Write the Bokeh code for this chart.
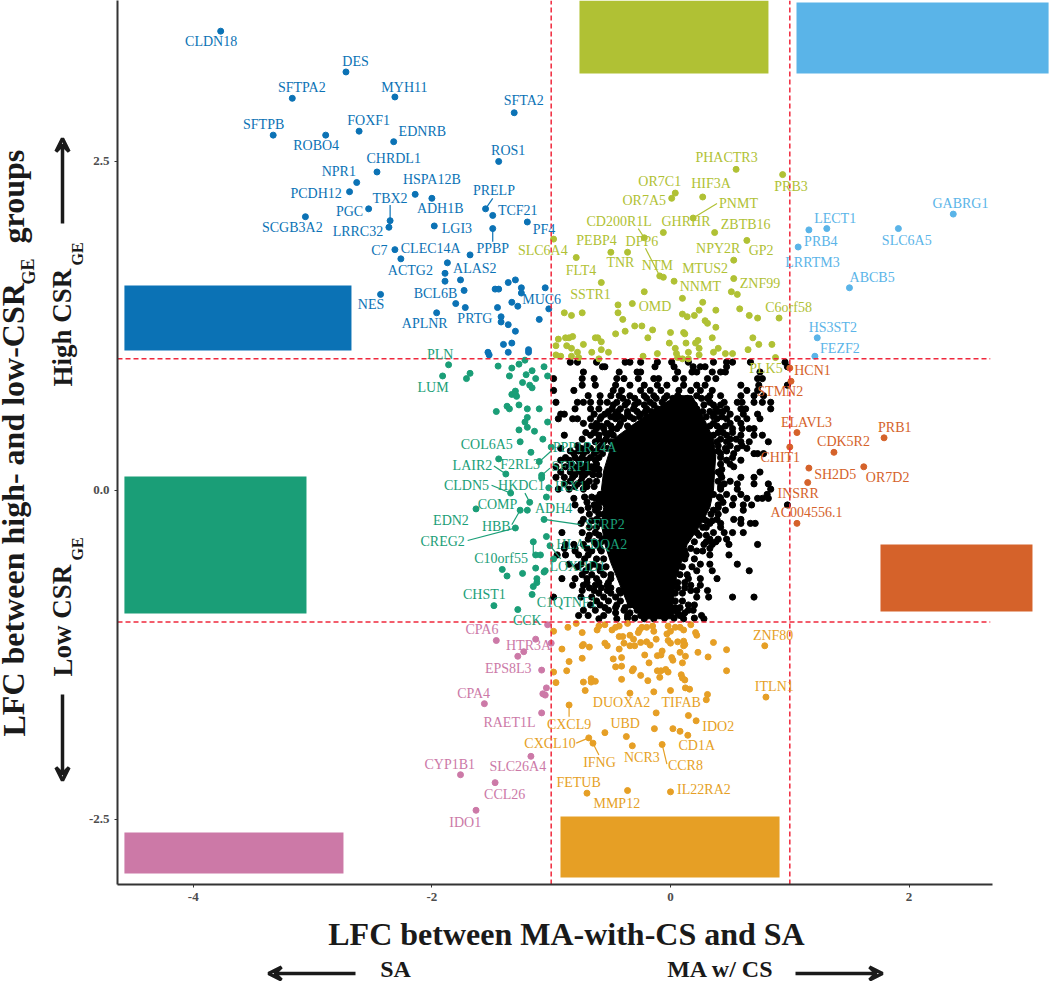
from bokeh.plotting import figure
from bokeh.layouts import column, row
from bokeh.models import Arrow, VeeHead, FixedTicker
from bokeh.core.properties import value
from bokeh.embed import file_html
from bokeh.resources import INLINE

SERIF = "Liberation Serif"

# ---------- blue: up in SA, high CSR ----------
blue_x = [-3.77,-2.72,-3.17,-2.31,-1.31,-3.33,-2.89,-2.61,-2.32,-1.44,-2.46,-2.63,-2.69,-2.14,-2.00,-2.53,-1.55,-1.49,-1.20,-2.35,-3.06,-2.36,-1.98,-1.49,-2.31,-2.26,-1.68,-1.87,-1.89,-1.89,-1.76,-2.43,-1.73,-1.80,-1.72,-1.96,-1.47,-1.44,-1.36,-1.30,-1.25,-1.25,-1.05,-1.33,-1.28,-1.45,-1.02,-1.42,-1.42,-1.36,-1.10,-1.30,-1.40,-1.33,-1.53,-1.52,-1.36,-1.19,-1.19]
blue_y = [3.49,3.18,2.98,2.99,2.87,2.70,2.70,2.73,2.65,2.50,2.42,2.34,2.27,2.25,2.22,2.14,2.14,2.09,2.04,2.05,2.08,2.00,2.01,1.99,1.83,1.76,1.79,1.73,1.65,1.59,1.60,1.49,1.52,1.42,1.39,1.35,1.53,1.53,1.58,1.60,1.54,1.50,1.54,1.43,1.40,1.39,1.38,1.32,1.28,1.26,1.30,1.21,1.11,1.12,1.05,1.03,1.05,1.07,1.05]
blue_names = ["CLDN18","DES","SFTPA2","MYH11","SFTA2","SFTPB","FOXF1","EDNRB","ROBO4","ROS1","CHRDL1","NPR1","HSPA12B","PCDH12","PRELP","TBX2","ADH1B","PGC","TCF21","SCGB3A2","LGI3","LRRC32","PF4","PPBP","CLEC14A","C7","ALAS2","ACTG2","BCL6B","MUC6","NES","PRTG","APLNR"]
blue_lx = [-3.85,-2.64,-3.09,-2.23,-1.23,-3.41,-2.53,-2.08,-2.97,-1.36,-2.32,-2.78,-2.00,-2.97,-1.48,-2.35,-1.93,-2.69,-1.28,-3.17,-1.79,-2.62,-1.06,-1.49,-2.01,-2.44,-1.64,-2.18,-1.97,-1.08,-2.51,-1.64,-2.06]
blue_ly = [3.41,3.26,3.06,3.06,2.96,2.78,2.81,2.73,2.62,2.58,2.52,2.42,2.36,2.26,2.28,2.22,2.14,2.12,2.13,2.00,1.99,1.97,1.98,1.84,1.84,1.82,1.69,1.67,1.50,1.45,1.41,1.31,1.27]
blue_seg = [[-1.49,2.22,-1.55,2.14],[-2.35,2.17,-2.35,2.05],[-1.49,1.99,-1.49,1.89]]

# ---------- lime ----------
lime_x = [.55,.94,.04,.01,.27,.19,-.06,.37,.64,-.22,-.98,-.36,-.50,-.79,.53,-.09,-.06,.03,.53,.51,.56,-.58,-.22,-.32,.10,.27,-.44,-.44,-.40,-.89,-.83,-.74,.24,.38,.58,.66,.73,.91,.10,.14,.20,.29,.31,.38,-.30,-.24,-.38,-.46,-.15,-.19,.00,.11,.12,.35,.69,.23,.21,-.01,.13,.74,.85,-.94,-.88,-.85,-.82,-.87,-.96,-.73,-.63,-.61,-.58,-.83,-.78,-.66,-.58,-.52,-.96,-.92,-.83,-.77,-.60,-.23,-.11,.04,.05,.06,.10,.15,.15,.24,.24,.36,.40,.46,.52,.65,.88]
lime_y = [2.44,2.40,2.26,2.22,2.23,2.07,1.96,1.96,1.90,1.92,1.91,1.81,1.81,1.77,1.75,1.63,1.62,1.59,1.61,1.51,1.49,1.58,1.51,1.42,1.46,1.43,1.41,1.35,1.30,1.35,1.33,1.35,1.37,1.37,1.38,1.33,1.31,1.31,1.34,1.32,1.33,1.29,1.27,1.24,1.25,1.25,1.21,1.19,1.22,1.16,1.20,1.20,1.19,1.16,1.16,1.14,1.12,1.12,1.12,1.11,1.11,1.15,1.16,1.16,1.17,1.10,1.10,1.11,1.16,1.16,1.13,1.08,1.05,1.05,1.07,1.05,1.03,1.02,1.02,1.01,1.00,1.02,1.04,1.08,1.04,1.01,1.00,1.00,1.05,1.08,1.03,1.05,1.08,1.04,1.04,1.07,1.01]
lime_names = ["PHACTR3","OR7C1","HIF3A","PRB3","OR7A5","PNMT","CD200R1L","GHRHR","ZBTB16","PEBP4","DPP6","NPY2R","GP2","SLC6A4","TNR","NTM","MTUS2","FLT4","ZNF99","NNMT","SSTR1","OMD","C6orf58","PLK5"]
lime_lx = [.47,-.09,.34,1.01,-.22,.57,-.43,.13,.63,-.62,-.24,.40,.76,-1.07,-.42,-.11,.29,-.75,.75,.25,-.67,-.13,.99,.80]
lime_ly = [2.53,2.35,2.33,2.31,2.20,2.18,2.04,2.04,2.02,1.90,1.89,1.84,1.82,1.82,1.73,1.71,1.69,1.67,1.57,1.55,1.49,1.40,1.39,.93]
lime_seg = [[.39,2.18,.19,2.07],[-.27,1.99,-.22,1.92],[-.21,1.84,-.09,1.63]]

# ---------- sky ----------
sky_x = [2.37,1.91,1.31,1.16,1.07,1.50,1.23,1.21]
sky_y = [2.10,1.99,1.99,1.98,1.85,1.54,1.16,1.02]
sky_names = ["GABRG1","LECT1","PRB4","SLC6A5","LRRTM3","ABCB5","HS3ST2","FEZF2"]
sky_lx = [2.43,1.38,1.26,1.98,1.19,1.69,1.36,1.42]
sky_ly = [2.18,2.07,1.89,1.90,1.73,1.62,1.24,1.08]

# ---------- rust ----------
rust_x = [1.00,1.01,1.06,1.79,1.37,1.00,1.16,1.62,1.15,1.06]
rust_y = [.93,.83,.44,.40,.29,.33,.17,.18,.06,-.25]
rust_names = ["HCN1","STMN2","ELAVL3","PRB1","CDK5R2","CHIT1","SH2D5","OR7D2","INSRR","AC004556.1"]
rust_lx = [1.19,.92,1.14,1.88,1.45,.92,1.38,1.82,1.07,1.14]
rust_ly = [.91,.75,.52,.48,.37,.25,.12,.10,-.02,-.17]

# ---------- green ----------
green_x = [-1.86,-1.91,-1.68,-1.71,-1.445,-1.33,-1.27,-1.22,-1.06,-1.35,-1.21,-1.16,-1.13,-1.03,-1.24,-1.18,-1.16,-1.30,-1.33,-1.30,-1.29,-1.27,-1.37,-1.35,-1.46,-1.20,-1.10,-1.20,-1.22,-1.03,-1.27,-1.20,-1.14,-1.07,-1.26,-1.00,-1.17,-1.44,-1.10,-1.38,-1.08,-1.08,-1.02,-1.34,-1.04,-1.18,-1.63,-1.26,-1.20,-1.06,-1.30,-1.04,-1.15,-1.01,-1.13,-1.09,-.98,-1.41,-1.37,-1.24,-1.13,-1.06,-1.05,-1.12,-1.12,-1.15,-1.16,-1.48,-1.28]
green_y = [.955,.87,.89,.85,.945,.93,.96,.99,.94,.87,.88,.91,.85,.87,.82,.80,.78,.755,.73,.73,.715,.65,.64,.62,.60,.62,.62,.555,.52,.52,.46,.48,.45,.39,.37,.33,.29,.24,.22,.125,.115,.095,.02,-.02,-.05,-.09,-.14,-.15,-.15,-.22,-.285,-.35,-.39,-.42,-.49,-.49,-.52,-.60,-.65,-.63,-.59,-.62,-.61,-.67,-.70,-.73,-.79,-.875,-.905]
green_names = ["PLN","LUM","COL6A5","PPP1R14A","LAIR2","F2RL3","SFRP1","CLDN5","HKDC1","IRX1","COMP","ADH4","EDN2","SFRP2","HBB","CREG2","HLA-DQA2","C10orf55","LOXHD1","CHST1","C1QTNF1","CCK"]
green_lx = [-1.93,-1.99,-1.54,-.72,-1.66,-1.26,-.83,-1.71,-1.25,-.84,-1.45,-.98,-1.84,-.55,-1.46,-1.91,-.66,-1.42,-.78,-1.56,-.87,-1.20]
green_ly = [1.036,.78,.35,.33,.19,.20,.185,.04,.036,.03,-.11,-.14,-.23,-.26,-.27,-.39,-.41,-.52,-.58,-.79,-.85,-.99]
green_seg = [[-1.0,.30,-1.11,.21],[-1.01,.17,-1.08,.115],[-1.48,.185,-1.38,.125],[-1.50,.04,-1.34,-.02],[-1.22,-.02,-1.18,-.09],[-1.33,-.26,-1.26,-.15],[-1.70,-.38,-1.30,-.285],[-1.06,-.22,-.755,-.26],[-1.15,-.39,-1.15,-.49],[-1.15,-.49,-1.09,-.49],[-1.01,-.42,-.92,-.52]]

# ---------- pink ----------
pink_x = [-1.03,-1.46,-1.13,-1.00,-1.23,-1.28,-1.08,-1.04,-1.07,-1.05,-1.56,-1.08,-1.17,-1.76,-1.47,-1.63]
pink_y = [-1.02,-1.14,-1.13,-1.16,-1.225,-1.26,-1.365,-1.50,-1.545,-1.555,-1.62,-1.69,-2.02,-2.16,-2.22,-2.43]
pink_names = ["CPA6","HTR3A","EPS8L3","CPA4","RAET1L","CYP1B1","SLC26A4","CCL26","IDO1"]
pink_lx = [-1.58,-1.19,-1.36,-1.65,-1.35,-1.85,-1.28,-1.39,-1.72]
pink_ly = [-1.06,-1.18,-1.35,-1.54,-1.76,-2.08,-2.10,-2.31,-2.52]

# ---------- orange ----------
orange_x = [-.79,-.98,-.86,-.74,-.615,-.60,-.55,-.49,-.46,-.43,-.36,-.26,-.24,-.20,-.15,-.14,-.02,.04,.08,-.03,.00,.11,.17,.21,.22,-.43,-.40,-.34,-.31,-.27,-.12,-.39,-.34,-.30,-.25,-.20,-.17,-.02,.00,.06,.11,.12,.11,-.55,-.53,-.74,-.73,-.68,-.91,.36,.47,-.43,-.07,-.11,-.08,-.216,-.41,-.48,-.74,-.85,.01,.02,.08,.125,.23,.315,-.18,.10,-.46,-.41,-.31,-.32,-.11,-.08,-.04,-.02,.47,-.98,-.87,-.25,-.09,.09,.10,.12,-.41,-.19,-.96,-.73,-.665,-.665,-.63,-.715,-.34,-.14,.00,.125,.16,.31,.30,.79,.80,-.85,-.12,.15,.215,-.55,-.685,-.65,-.37,-.32,-.135,.02,.08,.145,-.07,-.70,-.36,.00]
orange_y = [-1.01,-1.07,-1.04,-1.08,-1.06,-1.03,-1.02,-1.06,-1.04,-1.03,-1.01,-1.06,-1.04,-1.04,-1.03,-1.07,-1.03,-1.04,-1.04,-1.09,-1.07,-1.06,-1.02,-1.08,-1.10,-1.11,-1.11,-1.10,-1.13,-1.08,-1.13,-1.16,-1.18,-1.18,-1.155,-1.15,-1.175,-1.14,-1.16,-1.15,-1.145,-1.17,-1.18,-1.16,-1.18,-1.18,-1.17,-1.19,-1.205,-1.155,-1.21,-1.205,-1.22,-1.255,-1.25,-1.25,-1.27,-1.28,-1.275,-1.30,-1.27,-1.29,-1.23,-1.26,-1.23,-1.265,-1.31,-1.31,-1.34,-1.335,-1.355,-1.37,-1.37,-1.37,-1.36,-1.38,-1.37,-1.38,-1.37,-1.405,-1.42,-1.40,-1.425,-1.44,-1.435,-1.445,-1.46,-1.456,-1.43,-1.456,-1.45,-1.52,-1.54,-1.53,-1.52,-1.50,-1.51,-1.55,-1.59,-1.18,-1.57,-1.63,-1.69,-1.71,-1.75,-1.84,-1.88,-1.92,-1.87,-1.94,-1.81,-1.81,-1.83,-1.86,-1.93,-2.30,-2.28,-2.29]
orange_names = ["ZNF80","ITLN1","DUOXA2","TIFAB","IDO2","CXCL9","UBD","CXCL10","CD1A","NCR3","IFNG","CCR8","FETUB","IL22RA2","MMP12"]
orange_lx = [.86,.87,-.41,.09,.40,-.85,-.38,-1.01,.22,-.24,-.595,.125,-.77,.28,-.45]
orange_ly = [-1.10,-1.49,-1.61,-1.61,-1.79,-1.775,-1.77,-1.92,-1.94,-2.03,-2.07,-2.09,-2.22,-2.27,-2.38]
orange_seg = [[-.85,-1.63,-.85,-1.72],[-.79,-1.92,-.685,-1.88],[-.65,-1.92,-.60,-2.01],[-.07,-1.93,-.03,-2.08]]

# ---------- black: rows of readable points ----------
black_row_y = [.975,.94,.90,.85,.80,.76,.72,.67,.62,.58,.545,.51,.47,.42,.37,.32,.28,.23,.18,.14,.10,.05,.01,
               -.03,-.06,-.11,-.15,-.22,-.25,-.32,-.37,-.41,-.44,-.49,-.56,-.61,-.67,-.72,-.76,-.81,-.87,-.91,-.95,-.975,
               .70,.65,.60,.56,.49,.44,.39,.34,.30,.25,.20,.16,.12,.07,.03,
               -.05,-.09,-.13,-.18,-.23,-.28,-.34,-.39,-.46,-.52,-.58,-.64,-.70,-.74,-.78,-.84,-.89,-.93,-.97]
black_row_x = [
 [-.84,-.78,-.62,-.38,-.34,-.25,-.11,.01,.15,.36,.47,.52,.67,.96],
 [-.57,-.55,-.13,.03,.19,.25,.29,.47,.98],
 [-.73,-.43,-.28,-.25,.06,.18,.22,.35,.42,.46,.75],
 [-.98,-.74,-.64,-.45,-.39,-.27,-.14,-.10,.04,.11,.31,.38,.73,.77],
 [-.74,-.63,-.46,-.34,-.22,-.11,-.03,.11,.22,.29,.59,.74,.98],
 [-.98,-.81,-.48,-.41,-.25,-.17,-.08,.07,.17,.25,.35,.64,.73],
 [-.69,-.59,-.50,-.43,-.34,-.22,-.14,-.03,.06,.22,.33,.42,.59,.70,.78],
 [-.96,-.78,-.73,-.67,-.59,-.53,-.45,-.36,-.27,-.17,-.07,.03,.17,.33,.45,.56,.60,.70,.77,.84],
 [-.80,-.67,-.60,-.49,-.42,-.31,-.20,-.11,.01,.11,.22,.38,.47,.59,.63,.84],
 [-.92,-.89,-.64,-.55,-.46,-.36,-.25,-.14,-.01,.36,.50,.61,.73],
 [-.94,-.82,-.78,-.67,-.59,-.46,-.39,-.31,-.17,.39,.47,.56,.64,.75],
 [-.73,-.62,-.53,-.42,.36,.50,.59],
 [-.62,-.56,-.49,-.45,.42,.52,.60,.66,.70],
 [-.89,-.67,-.60,-.53,-.48,.36,.47,.59,.70,.77],
 [-.63,-.56,-.50,.39,.47,.59,.66,.82],
 [-.92,-.75,-.67,-.60,-.53,.46,.56,.64],
 [-.81,-.73,-.64,-.57,.42,.53,.70,.73,.78],
 [-.92,-.85,-.77,-.70,-.63,.47,.59],
 [-.96,-.88,-.81,-.73,-.66,.53],
 [-.92,-.84,-.75,-.69,.40,.75],
 [-.96,-.89,-.82,-.74,.43,.59,.70],
 [-.89,-.78,-.71,.45,.56,.70,.82],
 [-.94,-.85,-.73,.42,.56,.84],
 [-.59,-.56,.36,.47,.59,.81],
 [-.81,-.63,-.56,.42,.53,.64,.73,.77,.82],
 [-.80,-.64,-.50,.40,.52,.61,.68,.98],
 [-.75,-.63,-.53,.36,.46,.61],
 [-.73,-.62,.28,.39,.53,.59],
 [-.75,-.59,.33,.42,.59,.67,.71],
 [-.91,-.74,-.63,.22,.36,.45,.52,.61],
 [-.69,-.57,.33,.40,.47],
 [-.88,-.81,-.73,-.62,.08,.28,.35,.49,.73],
 [-.89,-.80,-.70,-.59,.17,.33],
 [-.95,-.88,-.77,-.69,.13,.33,.49],
 [-.85,-.75,-.64,.25,.33,.56],
 [-.71,-.59,.22,.35,.66],
 [-.91,-.80,-.70,-.62,-.50,.15,.25,.39],
 [-.82,-.73,-.63,-.53,.17,.25],
 [-.74,-.64,-.53,-.43,.17,.22,.31],
 [-.98,-.75,-.66,-.56,-.46,.22,.32,.52,.70],
 [-.67,-.59,-.45,-.34,.15,.20],
 [-.73,-.63,-.52,-.39,-.28,-.17,.03,.15,.19],
 [-.77,-.69,-.56,-.36,-.25,-.08,.08,.26],
 [-.60,-.45,-.22,-.14,.11,.28],
 [-.40,-.30,-.20,-.12,-.05,.02,.08,.14,.26,.31],
 [-.48,-.38,-.30,-.22,-.14,-.02,.08,.14,.20,.28,.36,.42],
 [-.52,-.44,-.36,-.28,-.21,-.16,.27,.33,.40,.44],
 [-.58,-.50,-.42,-.34,-.26,-.20,.30,.36,.43],
 [-.66,-.58,-.50,-.43,-.36,.33,.39,.46],
 [-.71,-.64,-.55,-.50,.40,.44,.52],
 [-.74,-.60,-.54,.42,.50,.55],
 [-.78,-.70,-.58,.40,.50,.60],
 [-.84,-.77,-.70,-.62,.40,.47],
 [-.88,-.80,-.74,-.67,-.60,.42,.52],
 [-.83,-.76,-.70,-.62,.42,.50],
 [-.77,-.71,-.64,-.60,.43],
 [-.80,-.72,-.65,-.60,.42],
 [-.84,-.75,-.68,-.62,.40,.50],
 [-.80,-.70,-.64,.42],
 [-.72,-.66,-.60,.41],
 [-.70,-.60,-.56,.44],
 [-.69,-.60,.40],
 [-.68,-.60,-.56,.34,.40],
 [-.66,-.60,.30,.35],
 [-.68,-.62,.27,.30,.42],
 [-.68,-.60,.24,.30],
 [-.64,-.58,.20,.30,.38],
 [-.80,-.66,-.58,.12,.22,.27],
 [-.72,-.62,-.56,.12,.20],
 [-.78,-.68,-.60,-.54,.10,.18],
 [-.74,-.66,-.56,-.50,.08,.14],
 [-.70,-.60,-.52,.06,.12],
 [-.68,-.58,-.50,.06,.12],
 [-.60,-.50,-.42,.04,.10],
 [-.62,-.52,-.42,.04,.10],
 [-.55,-.46,-.38,.04,.08],
 [-.46,-.34,-.10,-.02,.06,.12],
 [-.36,-.30,-.05,.03,.20],
]
# where the black points overlap into a solid mass: left and right edge per level
core_y = [.72,.62,.51,.39,.27,.15,0,-.13,-.25,-.41,-.55,-.66,-.86,-.975]
core_left = [.05,-.12,-.30,-.48,-.52,-.56,-.58,-.56,-.58,-.55,-.50,-.45,-.36,-.20]
core_right = [.18,.24,.30,.36,.38,.37,.36,.33,.26,.14,.09,.05,.02,.03]

# ---------- covering boxes ----------
box_colors = ["#B0C134","#5AB4E8","#0B72B5","#1A9E77","#D5622A","#CC79A7","#E69F25"]
box_left = [-.763,1.056,-4.577,-4.577,1.76,-4.577,-.922]
box_right = [.821,3.169,-2.674,-3.051,3.034,-2.741,.914]
box_top = [3.723,3.708,1.558,.106,-.41,-2.599,-2.477]
box_bottom = [3.169,3.169,1.064,-.935,-.919,-2.91,-2.941]

x_ticks = [-4,-2,0,2]
y_ticks = [-2.5,0,2.5]
x_title = "LFC between MA-with-CS and SA"

C_BLUE, C_LIME, C_SKY, C_RUST, C_GREEN, C_PINK, C_ORANGE = "#0B72B5","#B0C134","#5AB4E8","#D5622A","#1A9E77","#CC79A7","#E69F25"
RED = "#F0283C"
INK = "#1a1a1a"

LEFT_W, MAIN_H, FRAME_H = 84, 914, 884
X0, X1, Y0, Y1 = -4.635, 3.185, -2.994, 3.723
p = figure(width=1050-LEFT_W, height=MAIN_H, x_range=(X0, X1), y_range=(Y0, Y1),
           output_backend="svg", toolbar_location=None,
           min_border_left=117-LEFT_W, min_border_right=0, min_border_top=0, min_border_bottom=30,
           outline_line_color=None)
p.grid.visible = False

for ax in (p.xaxis[0], p.yaxis[0]):
    ax.axis_line_color = "#333333"
    ax.axis_line_width = 2
    ax.major_tick_line_color = "#333333"
    ax.major_tick_out = 3
    ax.major_tick_in = 0
    ax.minor_tick_line_color = None
    ax.major_label_standoff = 5
    ax.major_label_text_font = SERIF
    ax.major_label_text_font_style = "bold"
    ax.major_label_text_font_size = "13px"
    ax.major_label_text_color = "#4d4d4d"
p.xaxis[0].ticker = FixedTicker(ticks=x_ticks)
p.yaxis[0].ticker = FixedTicker(ticks=y_ticks)
p.xaxis[0].bounds = (X0, 2.70)
p.xaxis[0].major_label_overrides = {-4: "-4", -2: "-2", 0: "0", 2: "2"}
p.yaxis[0].major_label_overrides = {-2.5: "-2.5", 0: "0.0", 2.5: "2.5"}

# black
p.patch(core_left + core_right[::-1], core_y + core_y[::-1], color="black")
bx = [x for row_ in black_row_x for x in row_]
by = [y for y, row_ in zip(black_row_y, black_row_x) for _ in row_]
p.scatter(bx, by, size=6.2, color="black")

groups = [
    (blue_x, blue_y, blue_names, blue_lx, blue_ly, blue_seg, C_BLUE),
    (lime_x, lime_y, lime_names, lime_lx, lime_ly, lime_seg, C_LIME),
    (sky_x, sky_y, sky_names, sky_lx, sky_ly, [], C_SKY),
    (rust_x, rust_y, rust_names, rust_lx, rust_ly, [], C_RUST),
    (green_x, green_y, green_names, green_lx, green_ly, green_seg, C_GREEN),
    (pink_x, pink_y, pink_names, pink_lx, pink_ly, [], C_PINK),
    (orange_x, orange_y, orange_names, orange_lx, orange_ly, orange_seg, C_ORANGE),
]
for gx, gy, *_rest, col in groups:
    p.scatter(gx, gy, size=6, color=col)

# thresholds
p.line([-1, -1], [Y0, Y1], color=RED, line_width=1.5, line_dash="5 3")
p.line([1, 1], [Y0, Y1], color=RED, line_width=1.5, line_dash="5 3")
p.line([X0, 2.68], [1, 1], color=RED, line_width=1.5, line_dash="5 3")
p.line([X0, 2.68], [-1, -1], color=RED, line_width=1.5, line_dash="5 3")

for gx, gy, names, lx, ly, seg, col in groups:
    if seg:
        p.segment([s[0] for s in seg], [s[1] for s in seg], [s[2] for s in seg], [s[3] for s in seg],
                  color=col, line_width=1.2)
    p.text(lx, ly, text=names, text_color=col, text_font=value(SERIF), text_font_size="14px",
           text_align="center", text_baseline="middle")

p.quad(left=box_left, right=box_right, top=box_top, bottom=box_bottom, color=box_colors, line_color=None)

# strips holding the axis titles and arrows: their ranges run in page pixels
def strip(w, h, xr, yr):
    s = figure(width=w, height=h, x_range=xr, y_range=yr, output_backend="svg", toolbar_location=None,
               x_axis_location=None, y_axis_location=None, min_border=0, outline_line_color=None)
    s.grid.visible = False
    return s

def put(s, text, x, y, size, angle=0.0, align="center"):
    s.text([x], [y], text=[text], angle=angle, text_font=value(SERIF), text_font_style="bold",
           text_font_size=size, text_color=INK, text_align=align, text_baseline="middle")

def arrow(s, x0, y0, x1, y1):
    s.add_layout(Arrow(x_start=x0, y_start=y0, x_end=x1, y_end=y1, line_color=INK, line_width=3.5,
                       end=VeeHead(size=13, line_color=INK, line_width=3.5, fill_color=None)))

H = 1.5708
left = strip(LEFT_W, MAIN_H, (0, LEFT_W), (FRAME_H, 0))
put(left, "LFC between high- and low-CSR", 13, 736, "32px", H, "left")
put(left, "GE", 28, 284, "18px", H, "left")
put(left, "groups", 13, 243, "32px", H, "left")
put(left, "High CSR", 62, 386, "27px", H, "left")
put(left, "GE", 77, 265, "16px", H, "left")
put(left, "Low CSR", 62, 676, "27px", H, "left")
put(left, "GE", 77, 560, "16px", H, "left")
arrow(left, 62, 223, 62, 138)
arrow(left, 62, 694, 62, 780)

bottom = strip(1050, 981-MAIN_H, (0, 1050), (981, MAIN_H))
put(bottom, x_title, 566, 933, "32px")
put(bottom, "SA", 395, 968, "24px")
put(bottom, "MA w/ CS", 720, 968, "24px")
arrow(bottom, 355, 973, 268, 973)
arrow(bottom, 795, 973, 882, 973)

page = column(row(left, p, spacing=0), bottom, spacing=0)
open("out.html", "w").write(file_html(page, INLINE))
